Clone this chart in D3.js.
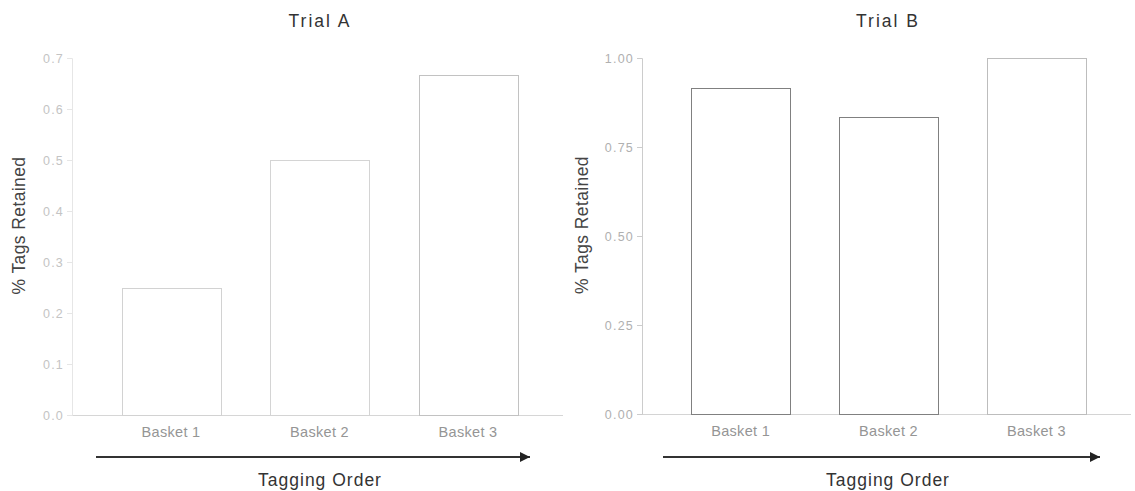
<!DOCTYPE html>
<html>
<head>
<meta charset="utf-8">
<script src="https://cdn.jsdelivr.net/npm/d3@7"></script>
<style>
  html, body { margin: 0; padding: 0; background: #fff; }
  svg { display: block; font-family: "Liberation Sans", Arial, sans-serif; }
</style>
</head>
<body>
<svg id="chart" width="1135" height="491"></svg>
<script>
const categories = ["Basket 1", "Basket 2", "Basket 3"];
const trialAValues = [0.25, 0.5, 0.667];
const trialBValues = [0.917, 0.833, 1.0];
const trialATicks = [0, 0.1, 0.2, 0.3, 0.4, 0.5, 0.6, 0.7];
const trialBTicks = [0, 0.25, 0.5, 0.75, 1.0];
const panelTitles = ["Trial A", "Trial B"];
const yTitle = "% Tags Retained";
const xTitle = "Tagging Order";

const svg = d3.select("#chart");
const defs = svg.append("defs");
defs.append("marker")
  .attr("id", "arrowhead")
  .attr("viewBox", "0 0 10 10")
  .attr("refX", 10).attr("refY", 5)
  .attr("markerWidth", 5).attr("markerHeight", 5)
  .attr("markerUnits", "strokeWidth")
  .attr("orient", "auto")
  .append("path").attr("d", "M0,0 L10,5 L0,10 Z").attr("fill", "#222");

const panels = [
  { title: panelTitles[0], values: trialAValues, ticks: trialATicks, max: 0.7, fmt: d3.format(".1f"),
    x0: 72, x1: 567, y0: 415, y1: 58, titleX: 320, yTitleX: 25, arrow: [96, 530],
    tickColor: "#c4c4c4", barColors: ["#d2d2d2", "#d4d4d4", "#c2c2c2"], axisColor: "#e6e6e6", baseColor: "#d6d6d6" },
  { title: panelTitles[1], values: trialBValues, ticks: trialBTicks, max: 1.0, fmt: d3.format(".2f"),
    x0: 642, x1: 1135, y0: 414, y1: 58, titleX: 888, yTitleX: 588, arrow: [663, 1100],
    tickColor: "#b0b0b0", barColors: ["#808080", "#808080", "#bdbdbd"], axisColor: "#cccccc", baseColor: "#d4d4d4" }
];

panels.forEach(p => {
  const g = svg.append("g");
  const x = d3.scaleBand().domain(categories).range([p.x0, p.x1]).paddingInner(1/3).paddingOuter(1/3);
  const y = d3.scaleLinear().domain([0, p.max]).range([p.y0, p.y1]);

  // baseline
  g.append("line")
    .attr("x1", p.x0).attr("x2", p.x1 - 4)
    .attr("y1", y(0) + 0.5).attr("y2", y(0) + 0.5)
    .attr("stroke", p.baseColor).attr("stroke-width", 1);

  // y axis
  const yAxis = d3.axisLeft(y).tickValues(p.ticks).tickFormat(p.fmt).tickSize(5).tickPadding(3);
  const ya = g.append("g").attr("transform", `translate(${p.x0},0)`).call(yAxis);
  ya.select(".domain").attr("stroke", p.axisColor);
  ya.selectAll(".tick line").attr("stroke", p.axisColor);
  ya.selectAll(".tick text").attr("fill", p.tickColor).attr("font-size", 12.5)
    .attr("letter-spacing", 1.2)
    .attr("font-family", "'Liberation Sans', Arial, sans-serif");

  // bars
  g.selectAll("rect.bar").data(p.values).join("rect")
    .attr("class", "bar")
    .attr("x", (d, i) => Math.round(x(categories[i])) + 0.5)
    .attr("y", d => Math.round(y(d)) + 0.5)
    .attr("width", Math.round(x.bandwidth()))
    .attr("height", d => Math.round(y(0)) - Math.round(y(d)))
    .attr("fill", "none")
    .attr("stroke", (d, i) => p.barColors[i])
    .attr("stroke-width", 1);

  // x category labels
  const xAxis = d3.axisBottom(x).tickSize(0).tickPadding(12);
  const xa = g.append("g").attr("transform", `translate(0,${p.y0})`).call(xAxis);
  xa.select(".domain").remove();
  xa.selectAll(".tick text").attr("fill", "#959595").attr("font-size", 14.5)
    .attr("letter-spacing", 0.3)
    .attr("font-family", "'Liberation Sans', Arial, sans-serif");

  // title
  g.append("text").attr("x", p.titleX).attr("y", 27)
    .attr("text-anchor", "middle").attr("font-size", 17.5).attr("fill", "#333")
    .attr("letter-spacing", 2)
    .text(p.title);

  // y title
  g.append("text")
    .attr("transform", `translate(${p.yTitleX},${(p.y0 + p.y1) / 2 - 11}) rotate(-90)`)
    .attr("text-anchor", "middle").attr("font-size", 17.5).attr("fill", "#444")
    .attr("letter-spacing", 0.4)
    .text(yTitle);

  // arrow
  g.append("line")
    .attr("x1", p.arrow[0]).attr("x2", p.arrow[1])
    .attr("y1", 457).attr("y2", 457)
    .attr("stroke", "#333").attr("stroke-width", 2)
    .attr("marker-end", "url(#arrowhead)");

  // x title
  g.append("text")
    .attr("x", p.titleX).attr("y", 486)
    .attr("text-anchor", "middle").attr("font-size", 17.5).attr("fill", "#333")
    .attr("letter-spacing", 1)
    .text(xTitle);
});
</script>
</body>
</html>
